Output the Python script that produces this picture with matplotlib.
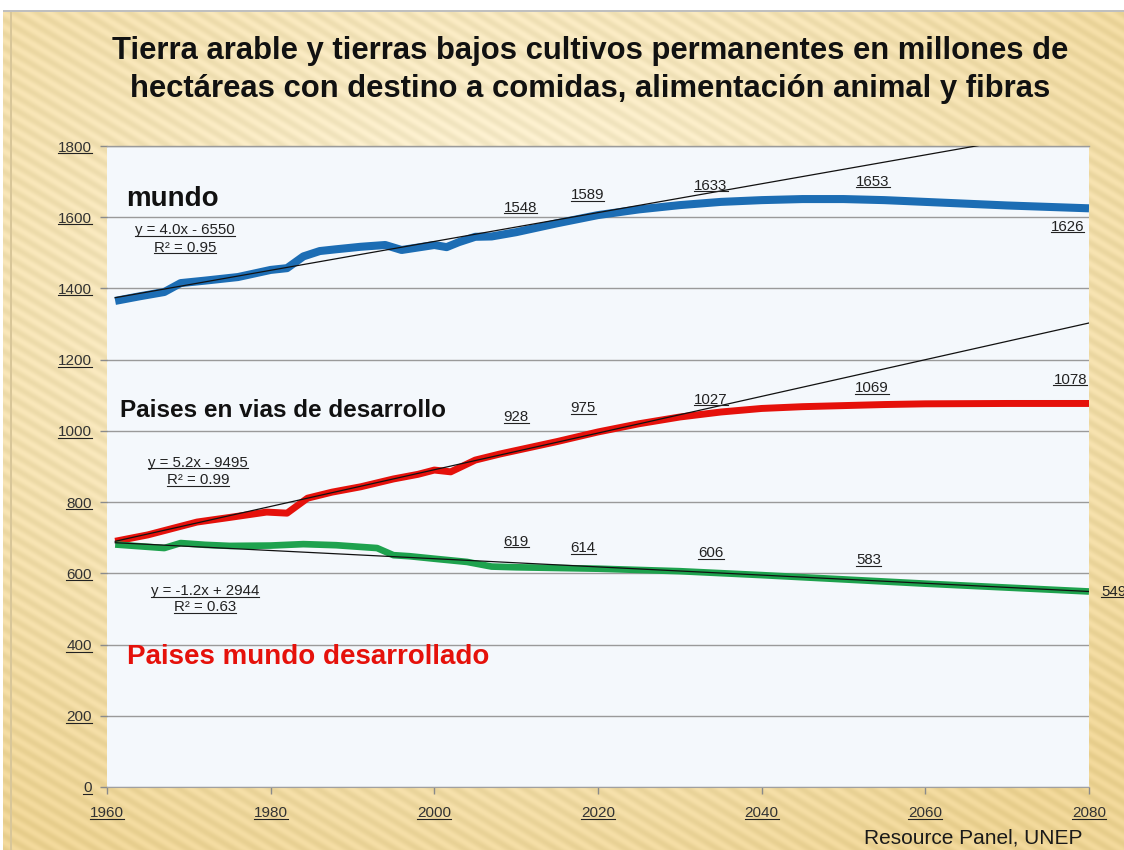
import numpy as np
import matplotlib
matplotlib.use("Agg")
import matplotlib.pyplot as plt
from matplotlib.lines import Line2D

plt.rcParams['font.family'] = ['Liberation Sans', 'DejaVu Sans']

# ---------------- data ----------------
world_years = [1961, 1964, 1967, 1969, 1972, 1976, 1980, 1982, 1984, 1986, 1988, 1991,
               1994, 1996, 1998, 2000, 2001.5, 2003, 2005, 2007, 2010, 2015, 2020, 2025,
               2030, 2035, 2040, 2045, 2050, 2055, 2060, 2065, 2070, 2075, 2080]
world_vals = [1365, 1378, 1390, 1415, 1422, 1432, 1452, 1457, 1490, 1505, 1510, 1517,
              1522, 1508, 1515, 1522, 1516, 1530, 1545, 1546, 1558, 1583, 1606, 1622,
              1634, 1643, 1648, 1651, 1651, 1648, 1643, 1638, 1633, 1629, 1625]

devg_years = [1961, 1965, 1971, 1975, 1979.5, 1982, 1984.5, 1987.5, 1991, 1995, 1998, 2000,
              2002, 2005, 2008, 2012, 2015, 2020, 2025, 2030, 2035, 2040, 2045, 2050,
              2055, 2060, 2070, 2080]
devg_vals = [690, 708, 744, 757, 772, 769, 811, 828, 843, 865, 878, 890,
             885, 918, 935, 955, 970, 997, 1020, 1039, 1053, 1063, 1068, 1071,
             1074, 1076, 1077, 1077]

devd_years = [1961, 1964, 1967, 1969, 1972, 1975, 1980, 1984, 1988, 1993, 1995, 1997,
              2000, 2004, 2007, 2010, 2020, 2030, 2040, 2050, 2060, 2070, 2080]
devd_vals = [681, 676, 671, 685, 680, 677, 678, 682, 679, 671, 651, 648,
             641, 632, 619, 617, 613, 606, 595, 583, 571, 560, 549]

trend_years = [1961, 2080]
world_trend = [1374, 1856]
devg_trend = [690, 1303]
devd_trend = [686, 549]

world_labels = ["1548", "1589", "1633", "1653", "1626"]
devg_labels = ["928", "975", "1027", "1069", "1078"]
devd_labels = ["619", "614", "606", "583", "549"]

eq_world = ["y = 4.0x - 6550", "R² = 0.95"]
eq_devg = ["y = 5.2x - 9495", "R² = 0.99"]
eq_devd = ["y = -1.2x + 2944", "R² = 0.63"]

x_ticks = [1960, 1980, 2000, 2020, 2040, 2060, 2080]
y_ticks = [0, 200, 400, 600, 800, 1000, 1200, 1400, 1600, 1800]

title = ("Tierra arable y tierras bajos cultivos permanentes en millones de\n"
         "hectáreas con destino a comidas, alimentación animal y fibras")

# ---------------- figure ----------------
W, H = 1124, 850
fig = plt.figure(figsize=(W / 100, H / 100), dpi=100)

# decorative background (gradient + diagonal stripes)
bg = fig.add_axes([0, 0, 1, 1], zorder=-10)
yy, xx = np.mgrid[0:H, 0:W]
cx, cy = W * 0.45, H * 0.35
d = np.sqrt(((xx - cx) / W) ** 2 + ((yy - cy) / H) ** 2)
t = np.clip(d / 0.75, 0, 1)
light = np.array([0.985, 0.955, 0.86])
dark = np.array([0.93, 0.83, 0.58])
img = light[None, None, :] * (1 - t[..., None]) + dark[None, None, :] * t[..., None]
stripes = 0.025 * np.sin((xx * 0.6 - yy) / 2.2)
img = np.clip(img + stripes[..., None] * np.array([1, 1, 1.3]), 0, 1)
img[:10, :, :] = 1.0
img[10:12, :, :] = 0.75
img[:, :3, :] = 1.0
img[12:, 10:12, :] = np.array([0.85, 0.78, 0.6])
bg.imshow(img, extent=[0, W, 0, H], origin='upper', aspect='auto', interpolation='bilinear')
bg.set_axis_off()

ax = fig.add_axes([107 / W, 1 - 787 / H, (1089 - 107) / W, (787 - 146) / H])
ax.set_facecolor('#f4f8fc')
ax.set_xlim(1960, 2080)
ax.set_ylim(0, 1800)
ax.set_xticks(x_ticks)
ax.set_yticks(y_ticks)
ax.set_xticklabels([str(v) for v in x_ticks])
ax.set_yticklabels([str(v) for v in y_ticks])
ax.tick_params(axis='both', colors='#8a8a8a', labelcolor='#333333', labelsize=11,
               length=5, width=1)
ax.tick_params(axis='y', pad=6)
ax.tick_params(axis='x', pad=9)
for s in ['top', 'right', 'left']:
    ax.spines[s].set_visible(False)
ax.spines['bottom'].set_color('#a0a0a0')
ax.grid(axis='y', color='#9a9a9a', lw=1)
ax.axhline(1800, color='#9a9a9a', lw=1, clip_on=False)
ax.set_axisbelow(True)

# data lines
ax.plot(world_years, world_vals, color='#1c6db4', lw=5.8, solid_capstyle='butt', zorder=3)
ax.plot(devg_years, devg_vals, color='#e5110b', lw=5, solid_capstyle='butt', zorder=3)
ax.plot(devd_years, devd_vals, color='#1ea24e', lw=4.8, solid_capstyle='butt', zorder=3)

# trend lines
ax.plot(trend_years, world_trend, color='#111111', lw=0.9, zorder=4)
ax.plot(trend_years, devg_trend, color='#111111', lw=0.9, zorder=4)
ax.plot(trend_years, devd_trend, color='#111111', lw=0.9, zorder=4)

underlined = []

def lbl(x, y, s, size=10.8, ha='center', color='#222222'):
    tx = ax.text(x, y, s, ha=ha, va='center', fontsize=size, color=color,
                 clip_on=False, zorder=5)
    underlined.append(tx)
    return tx

world_pos = [(2010.5, 1626), (2018.7, 1662), (2033.8, 1688), (2053.6, 1699), (2077.4, 1573)]
devg_pos = [(2010, 1039), (2018.2, 1064), (2033.8, 1087), (2053.5, 1120), (2077.7, 1143)]
devd_pos = [(2010, 688), (2018.2, 671), (2033.8, 657), (2053.1, 637), (2083.0, 548)]
for labs, pos in [(world_labels, world_pos), (devg_labels, devg_pos), (devd_labels, devd_pos)]:
    for s, (x, y) in zip(labs, pos):
        lbl(x, y, s)

lbl(1969.5, 1564, eq_world[0])
lbl(1969.5, 1514, eq_world[1])
lbl(1971.1, 910, eq_devg[0])
lbl(1971.1, 862, eq_devg[1])
lbl(1972.0, 550, eq_devd[0])
lbl(1972.0, 505, eq_devd[1])

ax.text(1962.3, 1650, "mundo", fontsize=20, fontweight='bold', color='#111111',
        ha='left', va='center', zorder=5)
ax.text(1961.6, 1056, "Paises en vias de desarrollo", fontsize=17.5, fontweight='bold',
        color='#111111', ha='left', va='center', zorder=5)
ax.text(1962.5, 365, "Paises mundo desarrollado", fontsize=20, fontweight='bold',
        color='#e5110b', ha='left', va='center', zorder=5)

fig.text(0.525, 1 - 70 / H, title, ha='center', va='center', fontsize=22.3,
         fontweight='bold', color='#111111', linespacing=1.35)
fig.text(1083 / W, 1 - 838 / H, "Resource Panel, UNEP", ha='right', va='center',
         fontsize=15, color='#1a1a1a')

# underline labels & tick labels
fig.canvas.draw()
renderer = fig.canvas.get_renderer()
targets = underlined + list(ax.get_xticklabels()) + list(ax.get_yticklabels())
for tx in targets:
    bb = tx.get_window_extent(renderer)
    y0 = bb.y0 + 1.5
    fig.add_artist(Line2D([bb.x0 / W, bb.x1 / W], [y0 / H, y0 / H],
                          transform=fig.transFigure, color='#222222', lw=0.8, zorder=6))

fig.savefig("out.png", dpi=100)
